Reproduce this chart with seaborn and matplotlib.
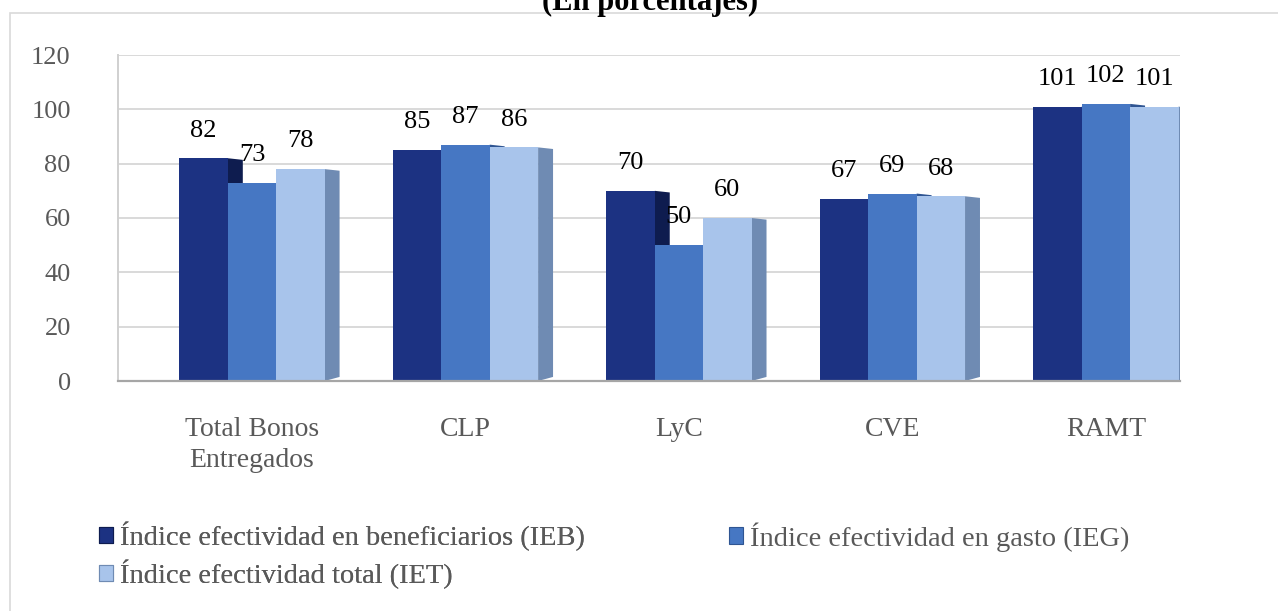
import matplotlib
matplotlib.use("Agg")
import matplotlib.pyplot as plt
import seaborn as sns
import pandas as pd
from matplotlib.patches import Patch, Rectangle, Polygon

categories = ["Total Bonos\nEntregados", "CLP", "LyC", "CVE", "RAMT"]
series = ["Índice efectividad en beneficiarios (IEB)",
          "Índice efectividad en gasto (IEG)",
          "Índice efectividad total (IET)"]
ieb = [82, 85, 70, 67, 101]
ieg = [73, 87, 50, 69, 102]
iet = [78, 86, 60, 68, 101]
yticks = [0, 20, 40, 60, 80, 100, 120]
title = "(En porcentajes)"

colors = ["#1c3282", "#4677c3", "#a8c4eb"]
side_colors = ["#0e1c4f", "#2f5592", "#6f8bb3"]

df = pd.DataFrame({
    "cat": categories * 3,
    "serie": [series[0]] * 5 + [series[1]] * 5 + [series[2]] * 5,
    "val": ieb + ieg + iet,
})

sns.set_theme(style="white")
plt.rcParams["font.family"] = ["Liberation Serif", "DejaVu Serif"]

W, H = 1278, 611
fig = plt.figure(figsize=(W / 100, H / 100), dpi=100)

# outer chart frame
fig.patches.append(Rectangle((10 / W, -0.1), 1.2, 1 - 13 / H + 0.1,
                             transform=fig.transFigure, fill=False,
                             edgecolor="#d9d9d9", lw=1.2))

ax = fig.add_axes([118 / W, 1 - 381 / H, 1062 / W, (381 - 55) / H])
sns.barplot(data=df, x="cat", y="val", hue="serie", palette=colors,
            width=0.68, gap=0.0, ax=ax, legend=False, saturation=1,
            linewidth=0)

ax.set_xlim(-0.628, 4.347)
ax.set_ylim(0, 120)
ax.set_yticks(yticks)
ax.set_xlabel("")
ax.set_ylabel("")
ax.yaxis.grid(True, color="#d9d9d9", lw=1.4)
ax.set_axisbelow(True)
for s in ["top", "right"]:
    ax.spines[s].set_visible(False)
ax.spines["left"].set_color("#d0d0d0")
ax.spines["left"].set_linewidth(1.4)
ax.spines["bottom"].set_color("#a6a6a6")
ax.spines["bottom"].set_linewidth(1.6)
ax.tick_params(axis="y", length=0, pad=34, labelsize=19, labelcolor="#595959")
ax.tick_params(axis="x", length=0, pad=26, labelsize=20, labelcolor="#595959")
for lbl in ax.get_xticklabels():
    lbl.set_linespacing(1.3)

# pseudo-3D side faces derived from the drawn bars
dx = 0.07
for cont, sc in zip(ax.containers, side_colors):
    for bar in cont:
        x1 = bar.get_x() + bar.get_width()
        h = bar.get_height()
        ax.add_patch(Polygon([(x1, 0), (x1 + dx, 1.5), (x1 + dx, h - 0.6), (x1, h)],
                             closed=True, facecolor=sc, edgecolor="none",
                             zorder=bar.get_zorder() - 0.1))

for cont in ax.containers:
    ax.bar_label(cont, fmt="%d", padding=12, fontsize=19, color="black")

fig.text(650 / W, 1 - 10 / H, title, ha="center", va="baseline",
         fontsize=22, fontweight="bold", color="black")

handles = [Patch(facecolor=c, edgecolor=s, lw=0.8) for c, s in zip(colors, side_colors)]
leg_kw = dict(frameon=False, fontsize=20.5, handlelength=0.5, handleheight=0.5,
              handletextpad=0.25, labelspacing=0.3, borderpad=0,
              borderaxespad=0, labelcolor="#595959", loc="upper left")
leg1 = fig.legend([handles[0], handles[2]], [series[0], series[2]],
                  bbox_to_anchor=(99 / W, 1 - 522 / H), **leg_kw)
fig.add_artist(leg1)
fig.legend([handles[1]], [series[1]],
           bbox_to_anchor=(729 / W, 1 - 522 / H), **leg_kw)

fig.savefig("out.png", dpi=100)
